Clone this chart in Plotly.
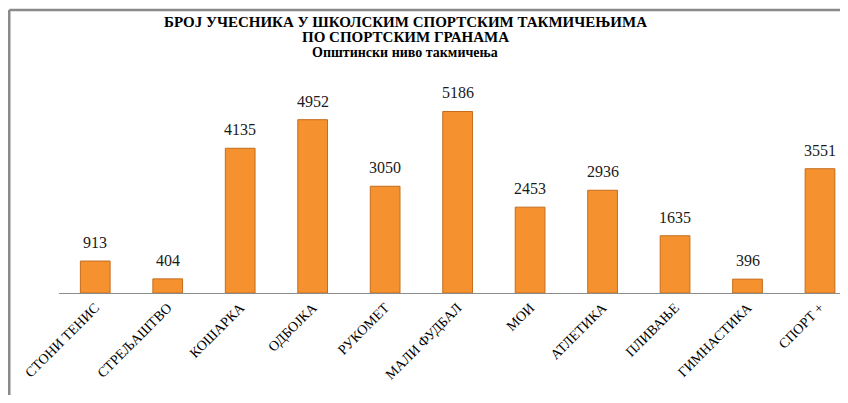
import plotly.graph_objects as go

categories = ["СТОНИ ТЕНИС", "СТРЕЉАШТВО", "КОШАРКА", "ОДБОЈКА", "РУКОМЕТ",
              "МАЛИ ФУДБАЛ", "МОИ", "АТЛЕТИКА", "ПЛИВАЊЕ", "ГИМНАСТИКА", "СПОРТ +"]
values = [913, 404, 4135, 4952, 3050, 5186, 2453, 2936, 1635, 396, 3551]

title_line1 = "БРОЈ УЧЕСНИКА У ШКОЛСКИМ СПОРТСКИМ ТАКМИЧЕЊИМА"
title_line2 = "ПО СПОРТСКИМ ГРАНАМА"
title_line3 = "Општински ниво такмичења"

# page body has an 8px margin; work in screen coordinates and subtract it
OFF = 8
W, H = 848 - OFF, 403 - 2 * OFF
L = 58.75 - OFF
BASE = 293 - OFF          # baseline y in figure px
TOP = 83 - OFF            # top of value range in figure px
PW = W - L
PH = BASE - TOP
B = H - BASE


def px_x(x_screen):
    return (x_screen - OFF - L) / PW


def px_y(y_screen):
    return (BASE - (y_screen - OFF)) / PH


SERIF = "Liberation Serif, Times New Roman, serif"

fig = go.Figure()
fig.add_trace(go.Bar(
    x=list(range(len(categories))),
    y=values,
    width=0.41,
    marker=dict(color="#F5922F", line=dict(color="#C46C1C", width=1)),
    hoverinfo="y",
))

for i, v in enumerate(values):
    fig.add_annotation(x=i, y=v, xref="x", yref="y", text=str(v),
                       showarrow=False, yanchor="bottom", yshift=8,
                       font=dict(family=SERIF, size=16, color="#1a1a1a"))

for txt, yc, sz in [(title_line1, 22, 15), (title_line2, 37, 15), (title_line3, 52, 14)]:
    fig.add_annotation(x=px_x(405), y=px_y(yc), xref="paper", yref="paper",
                       text="<b>" + txt + "</b>", showarrow=False,
                       xanchor="center", yanchor="middle", borderpad=0,
                       font=dict(family=SERIF, size=sz, color="#000000"))

# outer frame: only top and left edges fall inside the picture
frame = dict(color="#8a8a8a", width=2.5)
fig.add_shape(type="line", xref="paper", yref="paper",
              x0=px_x(9), x1=1, y0=px_y(10), y1=px_y(10), line=frame)
fig.add_shape(type="line", xref="paper", yref="paper",
              x0=px_x(9), x1=px_x(9), y0=px_y(10), y1=px_y(403), line=frame)

fig.update_layout(
    width=W, height=H,
    margin=dict(l=L, r=0, t=TOP, b=B, autoexpand=False),
    paper_bgcolor="white", plot_bgcolor="white",
    showlegend=False,
    xaxis=dict(
        range=[-0.5, (848 - 95) / 72.5],
        tickmode="array",
        tickvals=list(range(len(categories))),
        ticktext=categories,
        tickangle=-45,
        tickfont=dict(family=SERIF, size=14, color="#000000"),
        showline=True, linecolor="#8c8c8c", linewidth=1,
        showgrid=False, zeroline=False, ticks="",
    ),
    yaxis=dict(range=[0, 6000], visible=False, showgrid=False, zeroline=False),
)

fig.write_html("out.html", config={"displayModeBar": False})
